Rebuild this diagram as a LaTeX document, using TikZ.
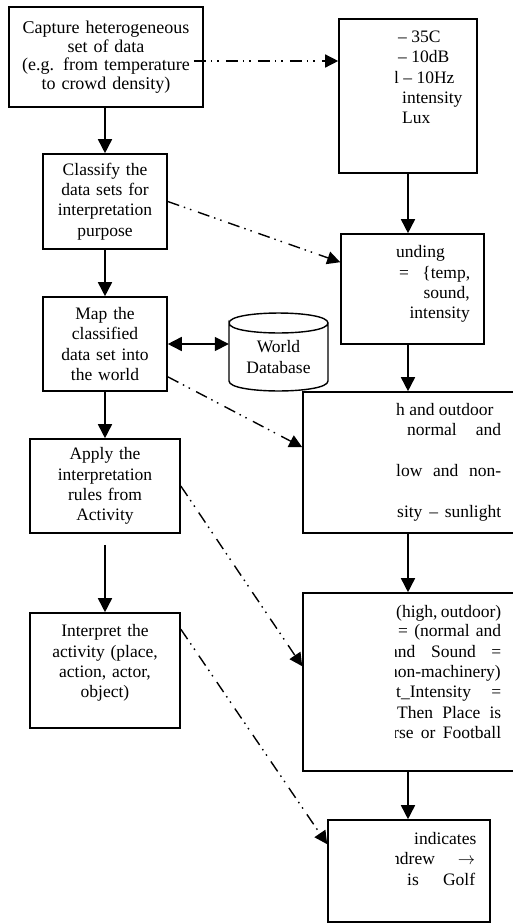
\documentclass[tikz,border=0pt]{standalone}
\usepackage{fontspec}
\setmainfont{Liberation Serif}
\usetikzlibrary{arrows.meta,calc}
\begin{document}
\begin{tikzpicture}[x=1pt,y=-1pt,
  box/.style={draw, line width=1.6pt, inner sep=0pt, align=center,
    font=\fontsize{17.5}{20.3}\selectfont},
  panel/.style={draw, line width=1.6pt, inner sep=0pt},
  flow/.style={line width=1.6pt, -{Triangle[width=14pt,length=14pt]}},
  link/.style={line width=1.4pt,
    dash pattern=on 12pt off 5pt on 1.5pt off 5pt on 1.5pt off 7pt,
    -{Triangle[width=13pt,length=13pt]}},
  rt/.style={anchor=base west, inner sep=0pt, font=\fontsize{17.5}{20.3}\selectfont},
]
\useasboundingbox (0,0) rectangle (513,924);

% left column: processing steps
\node[box, minimum width=194pt, minimum height=100pt, text width=186pt,
      font=\fontsize{18}{18.5}\selectfont] (cap) at (106,57)
  {Capture heterogeneous\\set of data\\(e.g. from temperature\\to crowd density)};
\node[box, minimum width=124pt, minimum height=95pt, text width=118pt] (cls) at (105,201.5)
  {Classify the\\data sets for\\interpretation\\purpose};
\node[box, minimum width=124pt, minimum height=94pt, text width=118pt] (map) at (105,344)
  {Map the\\classified\\data set into\\the world};
\node[box, minimum width=150pt, minimum height=94pt, text width=142pt] (app) at (105,486)
  {Apply the\\interpretation\\rules from\\Activity};
\node[box, minimum width=150pt, minimum height=115pt, text width=142pt] (int) at (105,670.5)
  {Interpret the\\activity (place,\\action, actor,\\object)\\[-2pt]\rule{0pt}{10pt}};

% world database cylinder
\node[inner sep=0pt, minimum width=99pt, minimum height=78pt, align=center,
      font=\fontsize{17.5}{20.3}\selectfont] (db) at (278.5,357) {World\\Database};
\draw[line width=1.4pt]
  ($(db.center)+(-49.5,-34)$) .. controls ($(db.center)+(-49.5,-47.3)$) and ($(db.center)+(49.5,-47.3)$) .. ($(db.center)+(49.5,-34)$)
  .. controls ($(db.center)+(49.5,-20.7)$) and ($(db.center)+(-49.5,-20.7)$) .. ($(db.center)+(-49.5,-34)$)
  -- ($(db.center)+(-49.5,24)$)
  .. controls ($(db.center)+(-49.5,37.3)$) and ($(db.center)+(49.5,37.3)$) .. ($(db.center)+(49.5,24)$)
  -- ($(db.center)+(49.5,-34)$);

% right column: data panels
\node[panel, minimum width=138pt, minimum height=154pt] (r1) at (408,96) {};
\node[panel, minimum width=143pt, minimum height=110pt] (r2) at (412.5,289) {};
\node[panel, minimum width=227pt, minimum height=141pt] (r3) at (416.5,462.5) {};
\node[panel, minimum width=227pt, minimum height=178pt] (r4) at (416.5,682) {};
\node[panel, minimum width=162pt, minimum height=102pt] (r5) at (409,871) {};

% panel texts, cut off on their left side
\begin{scope}
\clip (395,0) rectangle (513,924);
\node[rt] (r1a) at (398,42) {– 35C};
\node[rt] (r1b) at (398,62) {– 10dB};
\node[rt] (r1c) at (394,83) {l – 10Hz};
\node[rt] (r1d) at (402,103) {intensity};
\node[rt] (r1e) at (402,123) {Lux};

\node[rt] (r2a) at (396,257) {unding};
\node[rt] (r2b) at (399,278) {\makebox[71pt][s]{= \{temp,}};
\node[rt, anchor=base east] (r2c) at (470,298) {sound,};
\node[rt, anchor=base east] (r2d) at (470,318) {intensity};

\node[rt] (r3a) at (396,415) {h and outdoor};
\node[rt] (r3b) at (407,435) {\makebox[94pt][s]{normal and}};
\node[rt] (r3c) at (396,476) {\makebox[105pt][s]{low and non-}};
\node[rt] (r3d) at (397,517) {\makebox[104pt][s]{sity – sunlight}};

\node[rt] (r4a) at (396,617) {\makebox[105pt][s]{(high, outdoor)}};
\node[rt] (r4b) at (398,636) {\makebox[103pt][s]{= (normal and}};
\node[rt] (r4c) at (390,657) {\makebox[111pt][s]{and Sound =}};
\node[rt, anchor=base east] (r4d) at (501,677) {non-machinery)};
\node[rt] (r4e) at (396,697) {\makebox[105pt][s]{t\_Intensity =}};
\node[rt] (r4f) at (397,718) {\makebox[104pt][s]{Then Place is}};
\node[rt] (r4g) at (393,738) {\makebox[108pt][s]{rse or Football}};

\node[rt] (r5a) at (414,844) {indicates};
\node[rt] (r5b) at (391,864) {\makebox[84pt][s]{ndrew $\rightarrow$}};
\node[rt] (r5c) at (407,885) {\makebox[68pt][s]{is Golf}};
\end{scope}

% main flow
\draw[flow] (cls.north |- cap.south) -- (cls.north);
\draw[flow] (cls.south) -- (map.north);
\draw[flow] (map.south) -- (app.north);
\draw[flow] ($(app.south)+(0,11)$) -- (int.north);

\draw[flow] (r1.south) -- (r1.south |- r2.north);
\draw[flow] (r1.south |- r2.south) -- (r1.south |- r3.north);
\draw[flow] (r1.south |- r3.south) -- (r1.south |- r4.north);
\draw[flow] (r1.south |- r4.south) -- (r1.south |- r5.north);

\draw[line width=1.6pt, {Triangle[width=14pt,length=14pt]}-{Triangle[width=14pt,length=14pt]}]
  (map.east) -- (map.east -| db.west);

% cross links
\coordinate (d1s) at ($(cap.east)+(-10,4)$);
\draw[link] (d1s) -- (d1s -| r1.west);
\draw[link] (cls.east) -- ($(r2.north west)+(0,29)$);
\draw[link] ($(map.south east)+(0,-15)$) -- ($(r3.north west)+(0,56)$);
\draw[link] (app.east) -- ($(r4.north west)+(0,74)$);
\draw[link] ($(int.north east)+(0,17)$) -- ($(r5.north west)+(0,25)$);
\end{tikzpicture}
\end{document}
